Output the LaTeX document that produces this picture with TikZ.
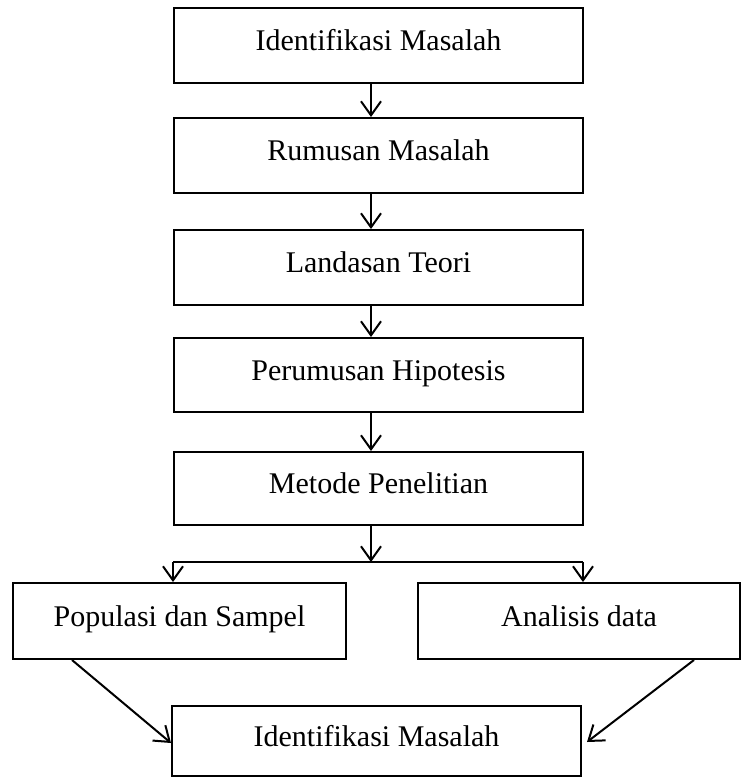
\documentclass[tikz,border=0pt]{standalone}
\usepackage{fontspec}
\setmainfont{Liberation Serif}
\usetikzlibrary{arrows.meta}

\begin{document}
\begin{tikzpicture}[x=1pt,y=-1pt,
  box/.style={draw,line width=2pt,inner sep=0pt,text height=21pt,text depth=11pt,
    font=\fontsize{30}{34}\selectfont},
  arr/.style={line width=2pt,-{Straight Barb[length=14pt,width=20pt,line width=2pt]}}]
  \useasboundingbox (0,0) rectangle (741,777);
  \node[box,minimum width=409pt,minimum height=75pt] (b1) at (378.5,45.5) {Identifikasi Masalah};
  \node[box,minimum width=409pt,minimum height=75pt] (b2) at (378.5,155.5) {Rumusan Masalah};
  \node[box,minimum width=409pt,minimum height=75pt] (b3) at (378.5,267.5) {Landasan Teori};
  \node[box,minimum width=409pt,minimum height=74pt] (b4) at (378.5,375) {Perumusan Hipotesis};
  \node[box,minimum width=409pt,minimum height=73pt] (b5) at (378.5,488.5) {Metode Penelitian};
  \node[box,minimum width=333pt,minimum height=76pt] (pop) at (179.5,621) {Populasi dan Sampel};
  \node[box,minimum width=322pt,minimum height=76pt] (ana) at (579,621) {Analisis data};
  \node[box,minimum width=409pt,minimum height=70pt] (bot) at (376.5,741) {Identifikasi Masalah};
  \coordinate (split) at (371,562);
  \coordinate (jl) at (173,562);
  \coordinate (jr) at (583,562);
  \draw[arr] ([xshift=-7.5pt]b1.south) -- ([xshift=-7.5pt]b2.north);
  \draw[arr] ([xshift=-7.5pt]b2.south) -- ([xshift=-7.5pt]b3.north);
  \draw[arr] ([xshift=-7.5pt]b3.south) -- ([xshift=-7.5pt]b4.north);
  \draw[arr] ([xshift=-7.5pt]b4.south) -- ([xshift=-7.5pt]b5.north);
  \draw[arr] ([xshift=-7.5pt]b5.south) -- (split);
  \draw[line width=2pt] (jl) -- (jr);
  \draw[arr] (jl) -- (jl |- pop.north);
  \draw[arr] (jr) -- (jr |- ana.north);
  \draw[arr] ([xshift=60pt]pop.south west) -- ([yshift=-2pt]bot.west);
  \draw[arr] ([xshift=-47pt]ana.south east) -- ([xshift=5pt,yshift=-1pt]bot.east);
\end{tikzpicture}
\end{document}
